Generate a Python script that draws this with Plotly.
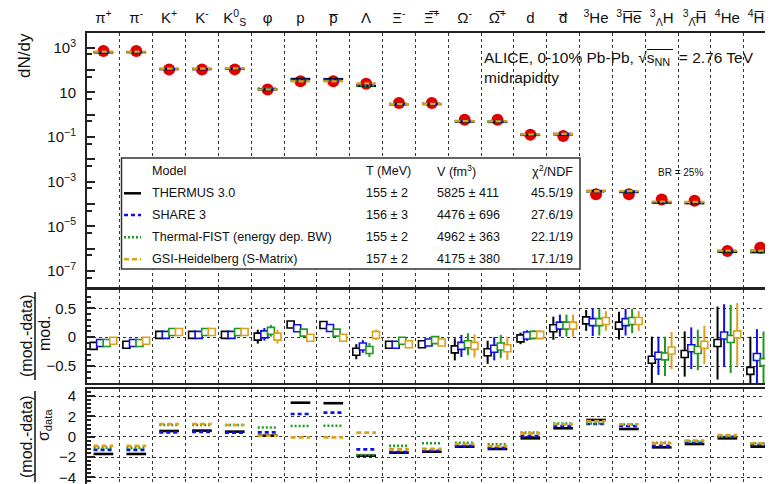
import plotly.graph_objects as go

# ---------------- data ----------------
categories = ["π<sup>+</sup>", "π<sup>-</sup>", "K<sup>+</sup>", "K<sup>-</sup>",
              "K<sup>0</sup><sub>S</sub>", "φ", "p", "p̅", "Λ", "Ξ<sup>-</sup>",
              "Ξ̅<sup>+</sup>", "Ω<sup>-</sup>", "Ω̅<sup>+</sup>", "d", "d̅",
              "<sup>3</sup>He", "<sup>3</sup>H̅e̅", "<sup>3</sup><sub>Λ</sub>H",
              "<sup>3</sup><sub>Λ̅</sub>H̅", "<sup>4</sup>He", "<sup>4</sup>H̅e̅"]

data_yield = [700, 700, 105, 105, 106, 13.2, 31, 31, 24, 3.3, 3.3, 0.59, 0.59,
              0.125, 0.11, 2.75e-4, 2.75e-4, 1.6e-4, 1.4e-4, 7.9e-7, 1.1e-6]

models = ["THERMUS 3.0", "SHARE 3", "Thermal-FIST (energy dep. BW)", "GSI-Heidelberg (S-Matrix)"]
model_T = ["155 ± 2", "156 ± 3", "155 ± 2", "157 ± 2"]
model_V = ["5825 ± 411", "4476 ± 696", "4962 ± 363", "4175 ± 380"]
model_chi2 = ["45.5/19", "27.6/19", "22.1/19", "17.1/19"]

# (mod-data)/mod
r_thermus = [-0.15, -0.13, 0.04, 0.04, 0.04, 0.01, 0.22, 0.21, -0.25, -0.13, -0.12, -0.21, -0.26,
             -0.02, 0.155, 0.29, 0.20, -0.39, -0.29, -0.10, -0.58]
r_share = [-0.10, -0.10, 0.04, 0.04, 0.04, 0.05, 0.155, 0.16, -0.16, -0.13, -0.09, -0.15, -0.20,
           0.03, 0.20, 0.26, 0.26, -0.32, -0.19, 0.03, -0.34]
r_fist = [-0.10, -0.10, 0.09, 0.09, 0.09, 0.11, 0.08, 0.08, -0.22, -0.06, -0.05, -0.12, -0.16,
          0.04, 0.20, 0.26, 0.28, -0.33, -0.22, -0.03, -0.43]
r_gsi = [-0.06, -0.06, 0.09, 0.09, 0.09, 0.01, -0.01, -0.01, 0.04, -0.12, -0.09, -0.15, -0.19,
         0.04, 0.20, 0.28, 0.28, -0.23, -0.13, 0.05, -0.34]

e_thermus = [0.03, 0.03, 0.03, 0.03, 0.03, 0.12, 0.03, 0.03, 0.13, 0.05, 0.05, 0.19, 0.20,
             0.10, 0.20, 0.18, 0.24, 0.40, 0.39, 0.63, 0.59]
e_share = [0.03, 0.03, 0.03, 0.03, 0.03, 0.11, 0.03, 0.03, 0.11, 0.05, 0.05, 0.19, 0.20,
           0.09, 0.19, 0.24, 0.23, 0.33, 0.36, 0.54, 0.48]
e_fist = [0.03, 0.03, 0.03, 0.03, 0.03, 0.10, 0.03, 0.03, 0.12, 0.05, 0.05, 0.19, 0.20,
          0.08, 0.19, 0.23, 0.21, 0.34, 0.35, 0.59, 0.53]
e_gsi = [0.03, 0.03, 0.03, 0.03, 0.03, 0.12, 0.03, 0.03, 0.09, 0.05, 0.05, 0.20, 0.20,
         0.08, 0.19, 0.17, 0.17, 0.32, 0.33, 0.54, 0.52]

# (mod-data)/sigma_data
s_thermus = [-1.7, -1.7, 0.56, 0.6, 0.5, 0.1, 3.35, 3.3, -1.87, -1.57, -1.48, -0.98, -1.21,
             -0.16, 0.83, 1.65, 0.76, -1.05, -0.72, -0.16, -0.98]
s_share = [-1.3, -1.3, 0.43, 0.48, 0.4, 0.43, 2.24, 2.37, -1.25, -1.5, -1.4, -0.9, -1.1,
           0.07, 1.05, 1.25, 1.05, -0.9, -0.6, 0.0, -0.8]
s_fist = [-1.1, -1.1, 1.15, 1.15, 1.15, 0.9, 1.05, 1.08, -1.8, -0.9, -0.65, -0.6, -0.75,
          0.4, 1.3, 1.3, 1.2, -0.6, -0.45, 0.0, -0.65]
s_gsi = [-0.9, -0.9, 1.25, 1.25, 1.15, 0.1, -0.07, -0.07, 0.4, -1.25, -1.2, -0.72, -0.92,
         0.33, 1.22, 1.55, 1.22, -0.65, -0.39, 0.16, -0.65]

# ---------------- style ----------------
# the page body has an 8px margin, so the figure is offset by 8px in the window
OFF = 8
W, H = 773, 484            # window size (reference pixel coordinates)
ML, MT = 87, 33            # plot-area corner in window pixels
PW, PH = W - ML, H - MT
FONT = "Liberation Sans, Arial, sans-serif"
AX = "#222222"
colors = ["#000000", "#1010e0", "#1f9a1f", "#dca01e"]
dashes = ["solid", "4px,3px", "2px,2px", "5px,3px"]
offsets = [-0.3, -0.1, 0.1, 0.3]
ratios = [r_thermus, r_share, r_fist, r_gsi]
errs = [e_thermus, e_share, e_fist, e_gsi]
sigs = [s_thermus, s_share, s_fist, s_gsi]

n = len(categories)
idx = list(range(n))
bounds = [i + 0.5 for i in range(n - 1)]
XR = [-0.5, -0.5 + PW / 32.84]


def px(x):
    return (x - ML) / PW


def py(y):
    return (H - y) / PH


def segs(vals, half=0.3):
    xs, ys = [], []
    for i, v in enumerate(vals):
        xs += [i - half, i + half, None]
        ys += [v, v, None]
    return xs, ys


fig = go.Figure()

# top panel: data
fig.add_trace(go.Scatter(x=idx, y=data_yield, mode="markers",
                         marker=dict(symbol="circle", size=12, color="#e00000"),
                         xaxis="x", yaxis="y"))
for k in range(4):
    mod = [d / (1 - r) for d, r in zip(data_yield, ratios[k])]
    xs, ys = segs(mod)
    fig.add_trace(go.Scatter(x=xs, y=ys, mode="lines",
                             line=dict(color=colors[k], width=2.2, dash=dashes[k]),
                             xaxis="x", yaxis="y"))

# middle panel
for k in range(4):
    fig.add_trace(go.Scatter(x=[i + offsets[k] for i in idx], y=ratios[k], mode="markers",
                             marker=dict(symbol="square", size=7, color="white",
                                         line=dict(color=colors[k], width=1.6)),
                             error_y=dict(type="data", array=errs[k], color=colors[k],
                                          thickness=2, width=0),
                             xaxis="x2", yaxis="y2"))

# bottom panel
for k in range(4):
    xs, ys = segs(sigs[k])
    fig.add_trace(go.Scatter(x=xs, y=ys, mode="lines",
                             line=dict(color=colors[k], width=2.6, dash=dashes[k]),
                             xaxis="x3", yaxis="y3"))

xcommon = dict(range=XR, showline=True, mirror=True, linewidth=2, linecolor=AX,
               showgrid=False, zeroline=False, ticks="", tickvals=idx, automargin=False,
               ticklabeloverflow="allow",
               minor=dict(tickvals=bounds, showgrid=True, gridcolor="#333",
                          griddash="dot", gridwidth=1, ticks=""))

dec = list(range(-8, 4))
yt_vals = [10.0 ** e for e in dec]
yt_text = []
for e in dec:
    if e % 2 == 0:
        yt_text.append("")
    elif e == 1:
        yt_text.append("10")
    else:
        yt_text.append("10<sup>%s</sup>" % (str(e).replace("-", "−")))

ycommon = dict(showline=True, mirror=False, linewidth=2, linecolor=AX, zeroline=False,
               ticks="inside", ticklen=8, tickwidth=1.5, tickcolor=AX, automargin=False,
               ticklabeloverflow="allow",
               tickfont=dict(size=15, color="#111"), ticklabelstandoff=6)

fig.update_layout(
    width=W - OFF, height=H - OFF,
    margin=dict(l=ML - OFF, r=0, t=MT - OFF, b=0, autoexpand=False),
    paper_bgcolor="white", plot_bgcolor="white", showlegend=False,
    font=dict(family=FONT, color="#111"),
    xaxis=dict(**xcommon, anchor="y", side="top", ticktext=categories,
               tickfont=dict(size=15, color="#111"), ticklabelstandoff=2),
    xaxis2=dict(**xcommon, anchor="y2", showticklabels=False),
    xaxis3=dict(**xcommon, anchor="y3", showticklabels=False),
    yaxis=dict(**ycommon, type="log", range=[-7.711, 3.653], domain=[py(287), 1],
               tickvals=yt_vals, ticktext=yt_text, showgrid=False,
               minor=dict(tickvals=[5 * 10.0 ** e for e in dec], ticks="inside",
                          ticklen=5, tickcolor=AX)),
    yaxis2=dict(**ycommon, range=[-0.79, 0.815], domain=[py(383), py(290)],
                tickvals=[-0.5, 0, 0.5], ticktext=["−0.5", "0", "0.5"],
                showgrid=True, gridcolor="#333", griddash="dot", gridwidth=1,
                minor=dict(dtick=0.1, ticks="inside", ticklen=4, tickcolor=AX)),
    yaxis3=dict(**ycommon, range=[-4.66, 4.7], domain=[0, py(389)],
                tickvals=[-4, -2, 0, 2, 4], ticktext=["−4", "−2", "0", "2", "4"],
                showgrid=True, gridcolor="#333", griddash="dot", gridwidth=1,
                minor=dict(dtick=0.4, ticks="inside", ticklen=4, tickcolor=AX)),
)

shapes = []
ann = []

# legend box
shapes.append(dict(type="rect", xref="paper", yref="paper", x0=px(121.5), x1=px(580),
                   y0=py(269), y1=py(158), line=dict(color="#333", width=1.5),
                   fillcolor="white", layer="above"))
row_y = [193.3, 215, 237.3, 259.3]
for k in range(4):
    shapes.append(dict(type="line", xref="paper", yref="paper", x0=px(124), x1=px(141),
                       y0=py(row_y[k]), y1=py(row_y[k]),
                       line=dict(color=colors[k], width=2.5, dash=dashes[k]), layer="above"))
    ann.append(dict(x=px(150), y=py(row_y[k]), text=models[k], xanchor="left"))
    ann.append(dict(x=px(364), y=py(row_y[k]), text=model_T[k], xanchor="left"))
    ann.append(dict(x=px(435), y=py(row_y[k]), text=model_V[k], xanchor="left"))
    ann.append(dict(x=px(575), y=py(row_y[k]), text=model_chi2[k], xanchor="right"))
hy = 170.7
ann.append(dict(x=px(150), y=py(hy), text="Model", xanchor="left"))
ann.append(dict(x=px(364), y=py(hy), text="T (MeV)", xanchor="left"))
ann.append(dict(x=px(435), y=py(hy), text="V (fm<sup>3</sup>)", xanchor="left"))
ann.append(dict(x=px(575), y=py(hy), text="χ<sup>2</sup>/NDF", xanchor="right"))
for a in ann:
    a.update(xref="paper", yref="paper", yanchor="middle", showarrow=False,
             font=dict(size=12.6, family=FONT, color="#111"))

extra = [
    dict(x=px(482), y=py(58), text="ALICE, 0-10% Pb-Pb, √s<sub>NN</sub>  = 2.76 TeV",
         xanchor="left", font=dict(size=15.5)),
    dict(x=px(482), y=py(78), text="midrapidity", xanchor="left", font=dict(size=15.5)),
    dict(x=px(680), y=py(172), text="BR = 25%", xanchor="center", font=dict(size=10)),
    dict(x=px(24), y=py(56), text="dN/dy", textangle=-90, font=dict(size=17)),
    dict(x=px(26), y=py(336), text="(mod.-data)", textangle=-90, font=dict(size=16)),
    dict(x=px(44), y=py(333), text="mod.", textangle=-90, font=dict(size=16)),
    dict(x=px(26), y=py(437), text="(mod.-data)", textangle=-90, font=dict(size=16)),
    dict(x=px(44), y=py(425), text="σ<sub>data</sub>", textangle=-90, font=dict(size=16)),
]
for a in extra:
    a.update(xref="paper", yref="paper", yanchor="middle", showarrow=False)
    a.setdefault("xanchor", "center")
    a["font"].update(family=FONT, color="#111")
ann += extra

# overline of the square root
shapes.append(dict(type="line", xref="paper", yref="paper", x0=px(647), x1=px(673),
                   y0=py(49.5), y1=py(49.5), line=dict(color="#111", width=1)))

# fraction bars of the ratio titles
shapes.append(dict(type="line", xref="paper", yref="paper", x0=px(35), x1=px(35),
                   y0=py(380), y1=py(292), line=dict(color="#111", width=1.5)))
shapes.append(dict(type="line", xref="paper", yref="paper", x0=px(35), x1=px(35),
                   y0=py(482), y1=py(391), line=dict(color="#111", width=1.5)))

fig.update_layout(shapes=shapes, annotations=ann)
fig.write_html("out.html")
